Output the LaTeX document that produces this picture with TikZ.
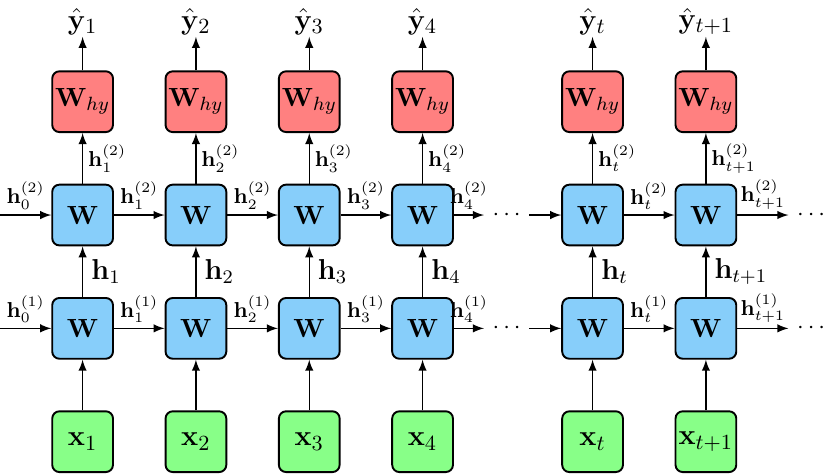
\documentclass[tikz,border=0pt]{standalone}
\usetikzlibrary{positioning}
\definecolor{wblue}{RGB}{135,206,250}
\definecolor{wred}{RGB}{255,128,128}
\definecolor{wgreen}{RGB}{136,255,136}
\begin{document}
\begin{tikzpicture}[
  cell/.style={draw,thick,rounded corners=3pt,minimum size=0.89cm,inner sep=0pt,font=\fontsize{11}{13}\selectfont},
  wcell/.style={cell,fill=wblue},
  ocell/.style={cell,fill=wred},
  icell/.style={cell,fill=wgreen},
  lbl/.style={font=\small,inner sep=2pt},
  big/.style={font=\large},
  huge/.style={font=\fontsize{13}{16}\selectfont},
  arr/.style={semithick,-latex}]
\useasboundingbox (0,0) rectangle (12.07,6.94);
% columns: inputs, two hidden layers, outputs
\foreach \n/\x/\s in {1/1.21/1,2/2.87/2,3/4.53/3,4/6.19/4,5/8.68/t,6/10.34/t+1}{
  \node[icell,huge] (x\n) at (\x,0.47) {$\mathbf{x}_{\s}$};
  \node[wcell] (a\n) at (\x,2.13) {$\mathbf{W}$};
  \node[wcell] (b\n) at (\x,3.79) {$\mathbf{W}$};
  \node[ocell] (o\n) at (\x,5.45) {$\mathbf{W}_{hy}$};
  \coordinate (y\n) at (\x,6.40);
  \draw[arr] (x\n)--(a\n);
  \draw[arr] (a\n)--node[big,right]{$\mathbf{h}_{\s}$}(b\n);
  \draw[arr] (b\n)--node[lbl,right]{$\mathbf{h}^{(2)}_{\s}$}(o\n);
  \draw[arr] (o\n)--(y\n)node[huge,above,inner sep=0.5pt]{$\hat{\mathbf{y}}_{\s}$};
}
% recurrent connections
\coordinate (l1) at (0,2.13);
\coordinate (l2) at (0,3.79);
\draw[arr] (l1)--node[lbl,above]{$\mathbf{h}^{(1)}_{0}$}(a1);
\draw[arr] (l2)--node[lbl,above]{$\mathbf{h}^{(2)}_{0}$}(b1);
\foreach \i/\j/\s in {1/2/1,2/3/2,3/4/3,5/6/t}{
  \draw[arr] (a\i)--node[lbl,above]{$\mathbf{h}^{(1)}_{\s}$}(a\j);
  \draw[arr] (b\i)--node[lbl,above]{$\mathbf{h}^{(2)}_{\s}$}(b\j);
}
\draw[arr] (a4.east)--node[lbl,above]{$\mathbf{h}^{(1)}_{4}$}++(0.44,0)node[right](da){$\cdots$};
\draw[arr] (b4.east)--node[lbl,above]{$\mathbf{h}^{(2)}_{4}$}++(0.44,0)node[right](db){$\cdots$};
\draw[arr] (da)--(a5);
\draw[arr] (db)--(b5);
\draw[arr] (a6.east)--node[lbl,above]{$\mathbf{h}^{(1)}_{t+1}$}++(0.75,0)node[right]{$\cdots$};
\draw[arr] (b6.east)--node[lbl,above]{$\mathbf{h}^{(2)}_{t+1}$}++(0.75,0)node[right]{$\cdots$};
\end{tikzpicture}
\end{document}
